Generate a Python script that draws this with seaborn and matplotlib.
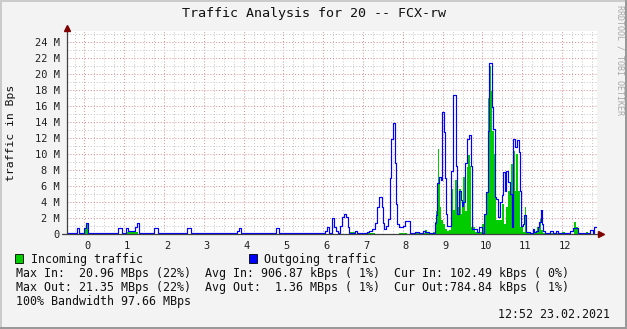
import numpy as np
import pandas as pd
import matplotlib
matplotlib.use("Agg")
import matplotlib.pyplot as plt
import seaborn as sns
from matplotlib.patches import Rectangle
from matplotlib.transforms import ScaledTranslation

# ---------------- data (MBps, step changes) ----------------
outgoing = [(-0.45, 0.05), (-0.2, 0.75), (-0.13, 0.05), (0.0, 0.7), (0.03, 1.3), (0.08, 0.1),
            (0.13, 0.05), (0.3, 0.15), (0.37, 0.05), (0.85, 0.75), (0.93, 0.05), (1.04, 0.75),
            (1.1, 0.4), (1.27, 0.8), (1.33, 1.3), (1.37, 0.1), (1.44, 0.05), (1.75, 0.75),
            (1.85, 0.05), (2.58, 0.75), (2.67, 0.05), (2.93, 0.15), (3.0, 0.05), (3.56, 0.15),
            (3.63, 0.05), (3.78, 0.15), (3.83, 0.35), (3.88, 0.7), (3.93, 0.15), (4.0, 0.05),
            (4.81, 0.75), (4.89, 0.15), (5.0, 0.05), (5.15, 0.15), (5.3, 0.05), (5.55, 0.15),
            (5.7, 0.05), (5.81, 0.15), (5.86, 0.05), (6.04, 0.4), (6.09, 0.8), (6.14, 0.1),
            (6.21, 2.0), (6.26, 0.9), (6.31, 0.4), (6.38, 0.1), (6.42, 1.0), (6.47, 2.1),
            (6.52, 2.5), (6.57, 2.1), (6.61, 0.8), (6.65, 0.1), (6.8, 0.3), (6.85, 0.05),
            (7.1, 0.2), (7.15, 0.4), (7.22, 0.6), (7.3, 1.3), (7.35, 3.3), (7.39, 4.6),
            (7.47, 3.4), (7.49, 1.4), (7.53, 0.6), (7.58, 1.0), (7.63, 1.9), (7.67, 7.0),
            (7.7, 11.9), (7.74, 13.8), (7.79, 8.8), (7.82, 3.7), (7.86, 1.2), (7.9, 0.9),
            (8.0, 1.0), (8.05, 1.6), (8.17, 0.1), (8.3, 0.2), (8.4, 0.1), (8.5, 0.3),
            (8.55, 0.2), (8.65, 0.1), (8.8, 1.3), (8.83, 2.3), (8.86, 6.3), (8.9, 7.1),
            (8.95, 6.7), (8.98, 15.2), (9.03, 12.7), (9.05, 7.0), (9.08, 2.5), (9.12, 1.0),
            (9.22, 7.9), (9.27, 17.3), (9.33, 8.5), (9.37, 2.5), (9.41, 5.4), (9.45, 4.2),
            (9.48, 3.5), (9.52, 4.0), (9.57, 8.8), (9.62, 11.9), (9.67, 12.3), (9.71, 8.5),
            (9.73, 0.6), (9.85, 0.2), (9.9, 0.8), (9.98, 0.05), (10.04, 2.5), (10.09, 5.2),
            (10.13, 12.9), (10.16, 21.3), (10.23, 15.8), (10.27, 13.1), (10.31, 4.6), (10.35, 4.4),
            (10.39, 2.1), (10.44, 4.0), (10.48, 4.8), (10.52, 7.7), (10.56, 5.4), (10.6, 7.9),
            (10.64, 6.5), (10.68, 5.0), (10.73, 0.8), (10.77, 11.9), (10.82, 10.8), (10.87, 11.7),
            (10.92, 10.2), (10.95, 5.4), (10.98, 1.0), (11.02, 1.25), (11.05, 2.3), (11.1, 0.2),
            (11.2, 0.1), (11.27, 0.6), (11.3, 0.2), (11.35, 0.3), (11.4, 0.8), (11.43, 1.5),
            (11.46, 3.0), (11.5, 1.25), (11.53, 0.3), (11.58, 0.1), (11.69, 0.3), (11.77, 0.1),
            (11.85, 0.3), (11.9, 0.05), (12.2, 0.4), (12.27, 0.75), (12.4, 0.1), (12.7, 0.5),
            (12.77, 0.05), (12.8, 0.8), (12.88, 0.8)]

incoming = [(-0.45, 0.02), (0.0, 0.7), (0.03, 1.3), (0.08, 0.02), (1.06, 0.2), (1.34, 0.02),
            (5.2, 0.15), (5.3, 0.02), (5.55, 0.15), (5.62, 0.02), (6.67, 0.2), (6.8, 0.02),
            (7.0, 0.15), (7.3, 0.02), (7.9, 0.15), (8.1, 0.02), (8.2, 0.15), (8.35, 0.1),
            (8.55, 0.5), (8.61, 0.1), (8.75, 0.2), (8.8, 1.5), (8.83, 2.9), (8.87, 10.6),
            (8.9, 6.7), (8.93, 3.3), (8.97, 1.7), (9.02, 1.25), (9.07, 0.6), (9.12, 0.4),
            (9.17, 0.5), (9.22, 5.6), (9.27, 3.0), (9.31, 6.7), (9.36, 3.3), (9.4, 5.6),
            (9.45, 2.5), (9.49, 3.8), (9.52, 7.1), (9.56, 2.9), (9.6, 8.3), (9.64, 9.8),
            (9.68, 8.5), (9.72, 0.8), (9.82, 0.2), (10.0, 1.25), (10.04, 2.5), (10.1, 5.2),
            (10.14, 17.0), (10.18, 21.0), (10.22, 17.9), (10.25, 12.9), (10.28, 10.0), (10.31, 5.0),
            (10.35, 1.7), (10.5, 3.75), (10.53, 1.25), (10.6, 3.3), (10.64, 5.4), (10.72, 8.75),
            (10.77, 10.4), (10.81, 5.4), (10.85, 10.0), (10.9, 5.4), (10.94, 0.8), (11.02, 0.2),
            (11.06, 3.3), (11.1, 0.05), (11.38, 0.8), (11.44, 1.9), (11.48, 0.5), (11.52, 0.05),
            (12.0, 0.2), (12.07, 0.02), (12.3, 1.5), (12.35, 0.8), (12.4, 0.02), (12.6, 0.2),
            (12.64, 0.02), (12.88, 0.02)]

out_time = [p[0] for p in outgoing]
out_mbps = [p[1] for p in outgoing]
in_time = [p[0] for p in incoming]
in_mbps = [p[1] for p in incoming]

x_ticks = list(range(0, 13))
x_tick_labels = [str(i) for i in x_ticks]
y_ticks = list(range(0, 25, 2))
y_tick_labels = ["0"] + [f"{v} M" for v in y_ticks[1:]]

title = "Traffic Analysis for 20 -- FCX-rw"
y_title = "traffic in Bps"
legend_names = ["Incoming traffic", "Outgoing traffic"]
stats_lines = ["Max In:  20.96 MBps (22%)  Avg In: 906.87 kBps ( 1%)  Cur In: 102.49 kBps ( 0%)",
               "Max Out: 21.35 MBps (22%)  Avg Out:  1.36 MBps ( 1%)  Cur Out:784.84 kBps ( 1%)",
               "100% Bandwidth 97.66 MBps"]
timestamp = "12:52 23.02.2021"
watermark = "RRDTOOL / TOBI OETIKER"

GREEN = "#00CC00"
BLUE = "#0000FF"

# ---------------- figure ----------------
W, H = 627, 329
sns.set_theme(style="white")
plt.rcParams['font.family'] = ['DejaVu Sans Mono', 'DejaVu Sans']
fig = plt.figure(figsize=(W / 100, H / 100), dpi=100, facecolor='#F3F3F3')


def fx(px):
    return px / W


def fy(py):
    return 1 - py / H


x0, x1 = 66.7, 597.0
y_bot, y_top = 233.7, 31.3
ax = fig.add_axes([fx(x0), fy(y_bot), (x1 - x0) / W, (y_bot - y_top) / H])
ax.set_facecolor('white')
ax.set_xlim(-0.447, 12.877)
ax.set_ylim(0, 25.3)

# grid
ax.set_xticks(x_ticks)
ax.set_xticks(np.arange(-0.25, 12.9, 0.25), minor=True)
ax.set_yticks(y_ticks)
ax.set_yticks(np.arange(1, 26, 1), minor=True)
ax.grid(which='minor', color='#C4C4C4', linestyle=(0, (1, 2)), linewidth=0.7)
ax.grid(which='major', color='#E08888', linestyle=(0, (1, 2)), linewidth=0.7)
ax.set_axisbelow(True)

# data
data_in = pd.DataFrame({"t": in_time, "v": in_mbps})
data_out = pd.DataFrame({"t": out_time, "v": out_mbps})
ax.fill_between(data_in["t"], data_in["v"], step='post', color=GREEN, linewidth=0, zorder=2)
sns.lineplot(data=data_out, x="t", y="v", drawstyle='steps-post', color=BLUE,
             linewidth=0.85, ax=ax, zorder=3, estimator=None)

ax.set_xlabel("")
ax.set_ylabel("")
ax.set_xticklabels(x_tick_labels)
ax.set_yticklabels(y_tick_labels)
ax.tick_params(axis='both', which='major', labelsize=7.5, length=2.5, width=0.8,
               color='#404040', pad=2.5, labelcolor='#202020')
ax.tick_params(axis='both', which='minor', length=0)
off = ScaledTranslation(3 / 100, 0, fig.dpi_scale_trans)
for lab in ax.get_xticklabels():
    lab.set_transform(lab.get_transform() + off)

for s in ax.spines.values():
    s.set_visible(False)

# axis lines with arrows
ax.plot([-0.008, 1.005], [0, 0], transform=ax.transAxes, color='#404040', lw=0.9,
        clip_on=False, zorder=4)
ax.plot([0, 0], [0, 1.012], transform=ax.transAxes, color='#404040', lw=0.9,
        clip_on=False, zorder=4)
ax.plot([1.008], [0], marker='>', markersize=4, color='#800000', transform=ax.transAxes,
        clip_on=False, zorder=5)
ax.plot([0], [1.018], marker='^', markersize=4, color='#800000', transform=ax.transAxes,
        clip_on=False, zorder=5)

# texts
fig.text(0.5, fy(14), title, ha='center', va='center', fontsize=9.6, color='#101010')
fig.text(fx(11), fy(133), y_title, rotation=90, ha='center', va='center', fontsize=8.2,
         color='#101010')
fig.text(fx(620), fy(5), watermark, rotation=-90, ha='center', va='top', fontsize=6,
         color='#A8A8A8')

# legend
fig.add_artist(Rectangle((fx(15), fy(263)), 8 / W, 9 / H, facecolor=GREEN, edgecolor='black',
                         lw=0.6, transform=fig.transFigure))
fig.add_artist(Rectangle((fx(249), fy(263)), 8 / W, 9 / H, facecolor=BLUE, edgecolor='black',
                         lw=0.6, transform=fig.transFigure))
fig.text(fx(31), fy(259), legend_names[0], ha='left', va='center', fontsize=8.4, color='#101010')
fig.text(fx(264), fy(259), legend_names[1], ha='left', va='center', fontsize=8.4, color='#101010')
for i, line in enumerate(stats_lines):
    fig.text(fx(16), fy(273 + 14 * i), line, ha='left', va='center', fontsize=8.4, color='#101010')
fig.text(fx(610), fy(315), timestamp, ha='right', va='center', fontsize=8.4, color='#101010')

# frame (3D border)
fig.add_artist(Rectangle((0, fy(2)), 1, 2 / H, facecolor='#CBCBCB', edgecolor='none',
                         transform=fig.transFigure))
fig.add_artist(Rectangle((0, 0), 2 / W, 1, facecolor='#CBCBCB', edgecolor='none',
                         transform=fig.transFigure))
fig.add_artist(Rectangle((0, 0), 1, 2 / H, facecolor='#999999', edgecolor='none',
                         transform=fig.transFigure))
fig.add_artist(Rectangle((fx(625), 0), 2 / W, 1, facecolor='#999999', edgecolor='none',
                         transform=fig.transFigure))

fig.savefig("out.png", dpi=100, facecolor=fig.get_facecolor())
